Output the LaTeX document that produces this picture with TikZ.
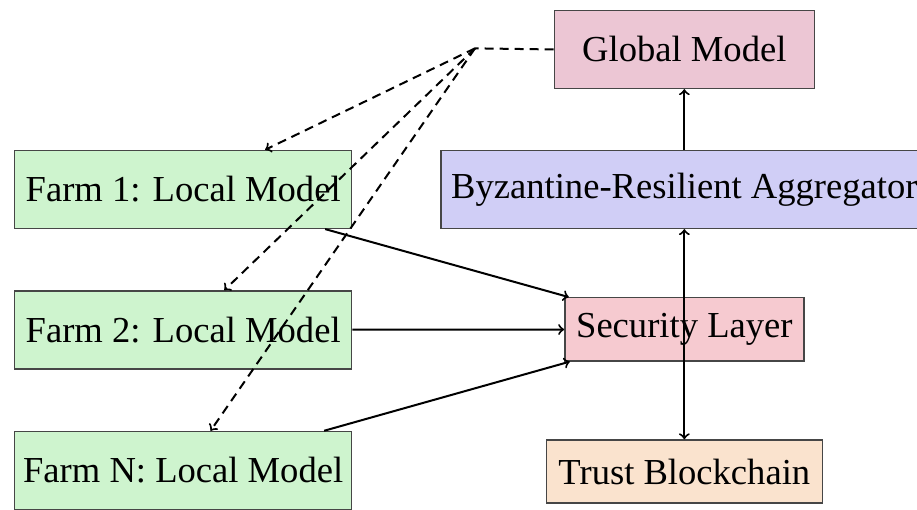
\documentclass[tikz,border=0pt]{standalone}
\usepackage{fontspec}
\setmainfont{Liberation Serif}
\usepackage{tikz}
\usetikzlibrary{arrows,shapes,positioning,calc}
\usepackage{xcolor}
\definecolor{farmgreen}{RGB}{206,244,206}
\definecolor{globpink}{RGB}{236,198,212}
\definecolor{aggblue}{RGB}{208,206,246}
\definecolor{secred}{RGB}{246,202,208}
\definecolor{chainpeach}{RGB}{250,227,206}
\definecolor{edgegray}{RGB}{70,70,70}
\tikzstyle{box} = [draw=edgegray, line width=0.7pt, inner sep=0pt, font=\fontsize{18.3}{22}\selectfont]
\tikzstyle{farmbox} = [box, fill=farmgreen, minimum width=5.92cm, minimum height=1.37cm]
\tikzstyle{flow} = [line width=1pt, ->, >=to]
\tikzstyle{push} = [line width=1pt, dashed, dash pattern=on 4.5pt off 3pt, ->, >=to]

\begin{document}
\begin{tikzpicture}
    \useasboundingbox (0,0) rectangle (16.12,8.95);

    % Farms
    \node[farmbox] (farm1) at (3.22, 5.62) {Farm 1: Local Model};
    \node[farmbox] (farm2) at (3.22, 3.15) {Farm 2: Local Model};
    \node[farmbox] (farmN) at (3.22, 0.68) {Farm N: Local Model};

    % Server side
    \node[box, fill=globpink, minimum width=4.57cm, minimum height=1.37cm] (glob) at (12.03, 8.08) {Global Model};
    \node[box, fill=aggblue, minimum width=8.55cm, minimum height=1.37cm] (agg) at (12.03, 5.62) {Byzantine-Resilient Aggregator};
    \node[box, fill=secred, minimum width=4.2cm, minimum height=1.11cm] (sec) at (12.03, 3.16) {Security Layer};
    \node[box, fill=chainpeach, minimum width=4.85cm, minimum height=1.11cm] (chain) at (12.03, 0.66) {Trust Blockchain};

    % Updates to security layer
    \draw[flow] (farm1) -- (sec);
    \draw[flow] (farm2) -- (sec);
    \draw[flow] (farmN) -- (sec);
    \draw[flow] (sec.center) -- (agg);
    \draw[flow] (sec.center) -- (chain);
    \draw[flow] (agg) -- (glob);

    % Broadcast of global model
    \coordinate (hub) at (8.35, 8.10);
    \draw[line width=1pt, dashed, dash pattern=on 4.5pt off 3pt] (glob.west) -- (hub);
    \draw[push] (hub) -- (farm1);
    \draw[push] (hub) -- (farm2);
    \draw[push] (hub) -- (farmN);
\end{tikzpicture}
\end{document}
